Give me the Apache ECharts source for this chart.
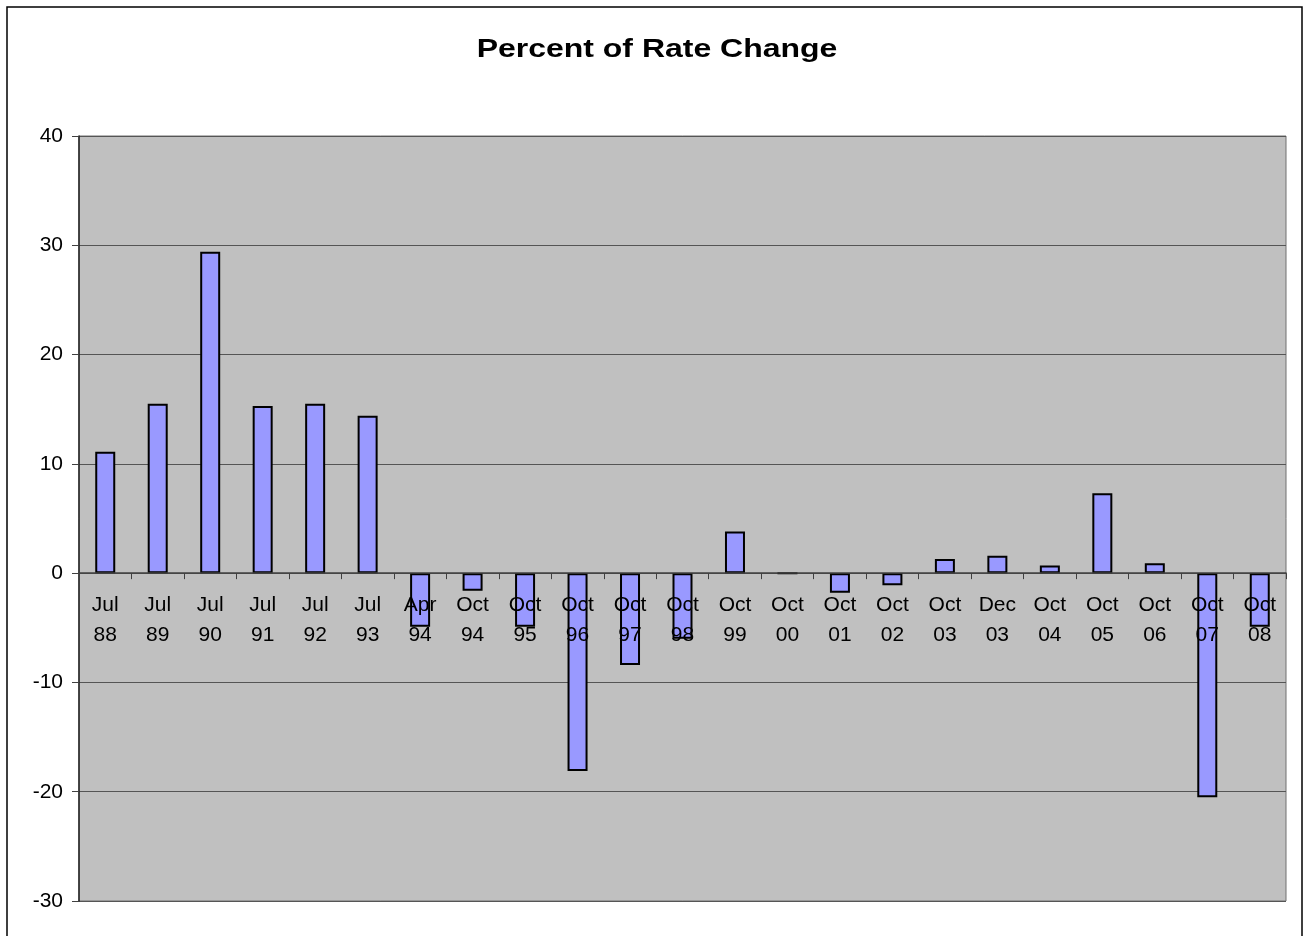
<!DOCTYPE html>
<html>
<head>
<meta charset="utf-8">
<title>Percent of Rate Change</title>
<script src="https://cdn.jsdelivr.net/npm/echarts@6/dist/echarts.min.js"></script>
<style>
  html, body { margin: 0; padding: 0; background: #ffffff; }
  #chart { width: 1304px; height: 936px; }
</style>
</head>
<body>
<div id="chart"></div>
<script>
// Rate change periods (month + two-digit year)
const categories = [
  'Jul 88', 'Jul 89', 'Jul 90', 'Jul 91', 'Jul 92', 'Jul 93', 'Apr 94', 'Oct 94',
  'Oct 95', 'Oct 96', 'Oct 97', 'Oct 98', 'Oct 99', 'Oct 00', 'Oct 01', 'Oct 02',
  'Oct 03', 'Dec 03', 'Oct 04', 'Oct 05', 'Oct 06', 'Oct 07', 'Oct 08'
];

// Percent change for each period
const rateChange = [
  11.1, 15.5, 29.4, 15.3, 15.5, 14.4, -4.9, -1.6,
  -4.9, -18.1, -8.4, -6.0, 3.8, 0, -1.8, -1.1,
  1.3, 1.6, 0.7, 7.3, 0.9, -20.5, -4.9
];

// Value axis range
const yMin = -30;
const yMax = 40;
const yStep = 10;

const chart = echarts.init(document.getElementById('chart'), null, { renderer: 'canvas' });

const font = 'Arial, "Liberation Sans", sans-serif';

// Category labels sit just under the zero line, drawn above the bars
const labelAnchors = categories.map(c => [c, 0]);

chart.setOption({
  backgroundColor: '#ffffff',
  animation: false,
  graphic: [
    {
      type: 'rect',
      shape: { x: 7, y: 7, width: 1295, height: 960 },
      style: { fill: 'none', stroke: '#000000', lineWidth: 1.5 },
      silent: true,
      z: 100
    },
    {
      type: 'text',
      x: 657,
      y: 50,
      scaleX: 1.23,
      style: {
        text: 'Percent of Rate Change',
        font: 'bold 26px Arial, "Liberation Sans", sans-serif',
        fill: '#000000',
        align: 'center',
        verticalAlign: 'middle'
      },
      silent: true,
      z: 100
    }
  ],
  grid: {
    left: 79, top: 136, right: 18, bottom: 35,
    outerBoundsMode: 'none',
    containLabel: false,
    show: true,
    backgroundColor: '#C0C0C0',
    borderColor: '#707070',
    borderWidth: 1
  },
  xAxis: {
    type: 'category',
    data: categories,
    boundaryGap: true,
    z: 5,
    axisLine: { show: true, onZero: true, lineStyle: { color: '#404040', width: 1.5 } },
    axisTick: { show: true, alignWithLabel: false, length: 6, lineStyle: { color: '#404040' } },
    axisLabel: { show: false },
    splitLine: { show: false }
  },
  yAxis: {
    type: 'value',
    min: yMin,
    max: yMax,
    interval: yStep,
    axisLine: { show: true, lineStyle: { color: '#202020', width: 1.5 } },
    axisTick: { show: true, length: 7, lineStyle: { color: '#404040' } },
    axisLabel: { fontFamily: font, fontSize: 21, color: '#000000', margin: 16 },
    splitLine: { show: true, lineStyle: { color: '#555555', width: 1.2 } }
  },
  series: [
    {
      type: 'bar',
      data: rateChange,
      barWidth: 20,
      itemStyle: { color: '#9999FF', borderColor: '#000000', borderWidth: 2 },
      z: 2
    },
    {
      type: 'scatter',
      data: labelAnchors,
      symbolSize: 0,
      silent: true,
      z: 10,
      itemStyle: { opacity: 1 },
      label: {
        show: true,
        position: 'bottom',
        distance: 17,
        fontFamily: font,
        fontSize: 21,
        lineHeight: 30,
        color: '#000000',
        opacity: 1,
        formatter: p => p.name.replace(' ', '\n')
      }
    }
  ]
});
</script>
</body>
</html>
